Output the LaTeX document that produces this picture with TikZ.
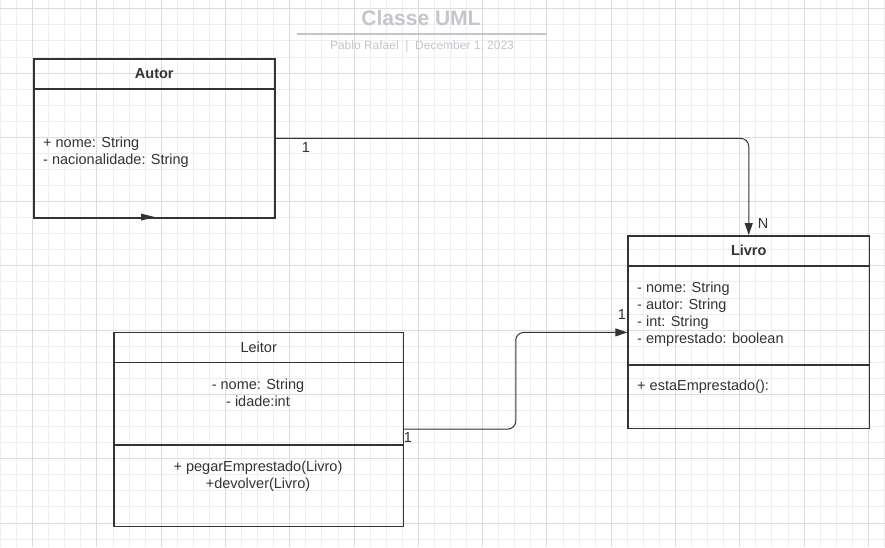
\documentclass[tikz,border=0pt]{standalone}
\usepackage{fontspec}
\setmainfont{Liberation Sans}
\usetikzlibrary{arrows.meta,calc}
\definecolor{ink}{HTML}{333333}
\definecolor{gridminor}{HTML}{EEEEEE}
\definecolor{gridmajor}{HTML}{DCDCDC}
\definecolor{titlegray}{HTML}{C3C6CC}
\definecolor{subgray}{HTML}{C4C6CB}
\newcommand\umlfont{\fontsize{14.5}{17}\selectfont}
\begin{document}
\begin{tikzpicture}[x=1pt,y=-1pt,
  gminor/.style={draw=gridminor, line width=1pt},
  gmajor/.style={draw=gridmajor, line width=1pt},
  comp/.style={draw=ink, line width=1.5pt, inner sep=0pt, anchor=north west, rectangle, text=ink},
  txt/.style={font=\umlfont, text=ink, inner sep=0pt},
  lbl/.style={font=\umlfont, text=ink, inner sep=0pt},
  conn/.style={draw=ink, line width=1pt, rounded corners=8pt, -{Triangle[length=12pt,width=8pt]}}
]
\useasboundingbox (0,0) rectangle (885,547);
\fill[white] (0,0) rectangle (885,547);
% grid
\begin{scope}
\clip (0,0) rectangle (885,547);
\foreach \k in {-2,...,53}{\draw[gminor] ({32.7+16.07*\k},0) -- ({32.7+16.07*\k},547);}
\foreach \k in {-1,...,34}{\draw[gminor] (0,{8.8+16.07*\k}) -- (885,{8.8+16.07*\k});}
\foreach \k in {-4,0,...,52}{\draw[gmajor] ({32.7+16.07*\k},0) -- ({32.7+16.07*\k},547);}
\foreach \k in {-4,0,...,32}{\draw[gmajor] (0,{8.8+16.07*\k}) -- (885,{8.8+16.07*\k});}
\end{scope}
% title
\node[font=\fontsize{21}{24}\selectfont\bfseries, text=titlegray, inner sep=0pt] (title) at (421,18) {Classe UML};
\draw[titlegray, line width=1.8pt] (296.7,34.3) -- (546.7,34.3);
\node[font=\fontsize{12}{14}\selectfont, text=subgray, inner sep=0pt] (subtitle) at (422,46.7) {Pablo Rafael\ \ |\ \ December 1, 2023};
% Autor
\node[comp, minimum width=241pt, minimum height=30.3pt, font=\umlfont\bfseries] (autorH) at (33,58) {Autor};
\node[comp, minimum width=241pt, minimum height=128.7pt] (autorB) at (33,88.3) {};
\node[txt, anchor=north west, align=left] (autorT) at (43,136.8) {+ nome: String\\- nacionalidade: String};
\fill[ink] (141,213.6) -- (155,217.1) -- (141,220.6) -- cycle;
% Livro
\node[comp, minimum width=241.4pt, minimum height=30pt, font=\umlfont\bfseries] (livroH) at (627.3,235) {Livro};
\node[comp, minimum width=241.4pt, minimum height=99.3pt] (livroB) at (627.3,265) {};
\node[comp, minimum width=241.4pt, minimum height=63.4pt] (livroM) at (627.3,364.3) {};
\node[txt, anchor=north west, align=left] (livroT) at (637,281.8) {- nome: String\\- autor: String\\- int: String\\- emprestado: boolean};
\node[txt, anchor=north west, align=left] (livroMT) at (637,379.8) {+ estaEmprestado():};
% Leitor
\node[comp, minimum width=289.4pt, minimum height=30pt, font=\umlfont] (leitorH) at (113.3,331.7) {Leitor};
\node[comp, minimum width=289.4pt, minimum height=82.3pt] (leitorB) at (113.3,361.7) {};
\node[comp, minimum width=289.4pt, minimum height=81.7pt] (leitorM) at (113.3,444) {};
\node[txt, anchor=north, align=center] (leitorT) at (258,378.8) {- nome: String\\- idade:int};
\node[txt, anchor=north, align=center] (leitorMT) at (258,460.8) {+ pegarEmprestado(Livro)\\+devolver(Livro)};
% connectors
\draw[conn] ([yshift=15pt]autorB.east) -| (livroH.north);
\coordinate (s2) at ([yshift=-25.5pt]leitorB.east);
\coordinate (t2) at ([yshift=-17pt]livroB.west);
\draw[conn] (s2) -| ($(s2)!.5!(t2)$) |- (t2);
% labels
\node[lbl] (l1) at (306,148) {1};
\node[lbl] (lN) at (763,224) {N};
\node[lbl] (l2) at (622,315) {1};
\node[lbl] (l3) at (408,438) {1};
\end{tikzpicture}
\end{document}
